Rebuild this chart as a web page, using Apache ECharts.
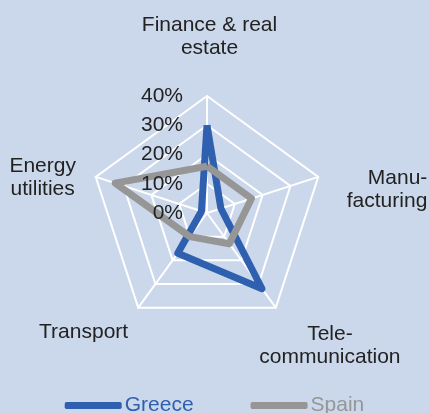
<!DOCTYPE html>
<html>
<head>
<meta charset="utf-8">
<script src="https://cdn.jsdelivr.net/npm/echarts@6/dist/echarts.min.js"></script>
<style>
  html, body { margin: 0; padding: 0; background: #cbd7ea; }
  #chart { width: 429px; height: 413px; }
</style>
</head>
<body>
<div id="chart"></div>
<script>
// indicators in ECharts order (counter-clockwise from the top)
var sectors = ["Finance & real\nestate", "Energy\nutilities", "Transport", "Tele-\ncommunication", "Manu-\nfacturing"];
var greece = [30, 2, 17, 32, 5];
var spain = [16, 33, 10, 13, 16];
var ticks = [0, 10, 20, 30, 40];

var blue = "#2f5faf";
var grey = "#969696";
var font = "Liberation Sans";

// nudges for each sector name: the name block is centred on its anchor,
// side padding moves it sideways, an empty spacer line moves it up or down
var nameRich = {
  f: { padding: [0, 0, 0, 5] },
  e: { padding: [0, 49, 0, 0] },
  t: { padding: [0, 74, 0, 0] },
  c: { padding: [0, 0, 0, 73] },
  m: { padding: [0, 0, 0, 79], width: 82, align: "right" }
};
// spacer height, > 0 above the text, < 0 below it
var nameShift = { f: -59, e: 20, t: 0, c: 27, m: 44 };
var nameKey = ["f", "e", "t", "c", "m"];
Object.keys(nameRich).forEach(function (k) {
  nameRich[k].fontSize = 21;
  nameRich[k].lineHeight = 23;
  nameRich[k].color = "#222";
  nameRich[k].fontFamily = font;
  nameRich["s" + k] = { fontSize: 1, lineHeight: Math.abs(nameShift[k]) || 1 };
});

var myChart = echarts.init(document.getElementById("chart"));

var option = {
  backgroundColor: "#cbd7ea",
  textStyle: { fontFamily: font },
  legend: {
    bottom: -8,
    left: "center",
    itemWidth: 57,
    itemHeight: 7,
    itemGap: 57,
    icon: "roundRect",
    textStyle: { fontSize: 21, fontFamily: font, padding: [0, 0, 0, -2] },
    data: [
      { name: "Greece", textStyle: { color: blue } },
      { name: "Spain", textStyle: { color: grey } }
    ]
  },
  // a plain value axis laid on the top spoke, just for the % labels
  grid: { left: 207, width: 1, top: 96, height: 117 },
  xAxis: { type: "value", show: false },
  yAxis: {
    type: "value",
    z: 5,
    min: ticks[0],
    max: ticks[ticks.length - 1],
    interval: 10,
    axisLine: { show: false },
    axisTick: { show: false },
    splitLine: { show: false },
    axisLabel: {
      formatter: "{value}%",
      color: "#222",
      fontSize: 21,
      fontFamily: font,
      margin: 24
    }
  },
  radar: {
    center: [207, 213],
    radius: 117,
    startAngle: 90,
    splitNumber: 4,
    shape: "polygon",
    nameGap: 30,
    axisName: {
      color: "#222",
      fontSize: 21,
      lineHeight: 23,
      fontFamily: font,
      align: "center",
      verticalAlign: "middle",
      formatter: function (name) {
        var k = nameKey[sectors.indexOf(name)];
        var lines = name.split("\n").map(function (line) {
          return "{" + k + "|" + line + "}";
        });
        var sp = "{s" + k + "|\u00a0}";
        if (nameShift[k] > 0) lines.unshift(sp);
        if (nameShift[k] < 0) lines.push(sp);
        return lines.join("\n");
      },
      rich: nameRich
    },
    splitLine: { lineStyle: { color: "#fff", width: 2 } },
    splitArea: { show: false },
    axisLine: { lineStyle: { color: "#fff", width: 2 } },
    indicator: sectors.map(function (s) {
      return { name: s, min: 0, max: 40 };
    })
  },
  series: [
    {
      type: "radar",
      symbol: "none",
      z: 2,
      data: [
        { name: "Greece", value: greece, lineStyle: { color: blue, width: 7 }, itemStyle: { color: blue } },
        { name: "Spain", value: spain, lineStyle: { color: grey, width: 7 }, itemStyle: { color: grey } }
      ]
    }
  ]
};

myChart.setOption(option);
</script>
</body>
</html>
